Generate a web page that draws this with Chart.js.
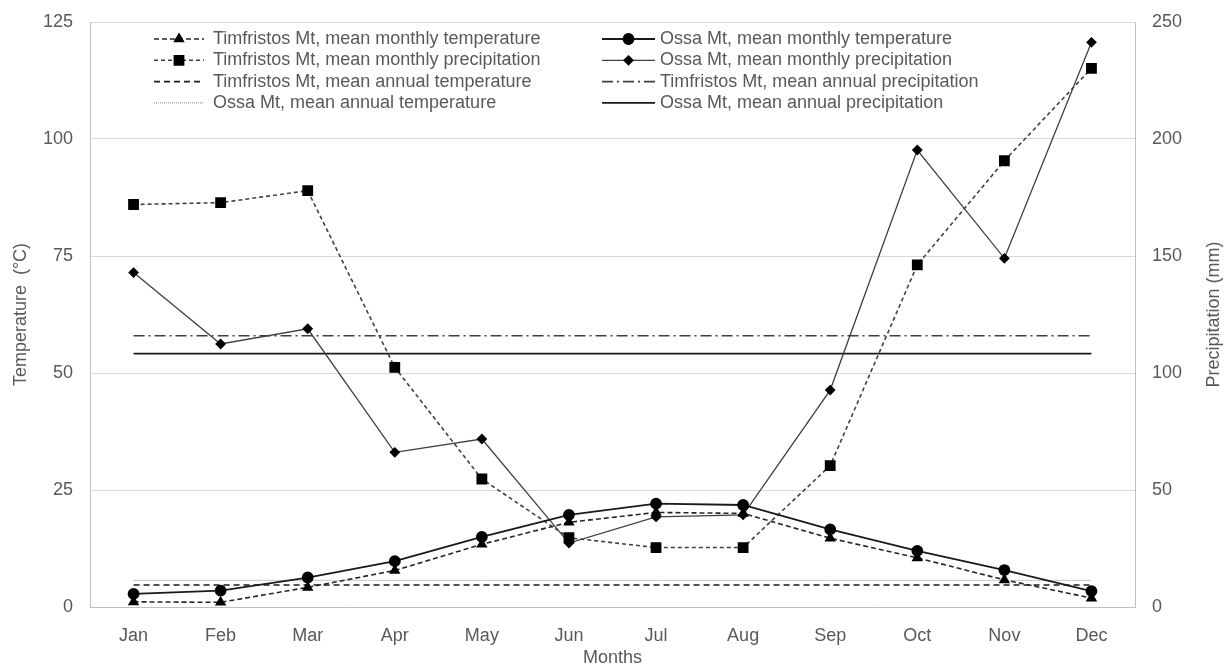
<!DOCTYPE html>
<html>
<head>
<meta charset="utf-8">
<script src="https://cdn.jsdelivr.net/npm/chart.js@4/dist/chart.umd.min.js"></script>
<style>
  html, body { margin: 0; padding: 0; background: #ffffff; }
  #chart-wrap { width: 1231px; height: 667px; }
</style>
</head>
<body>
<div id="chart-wrap"><canvas id="climate-chart" width="1231" height="667"></canvas></div>
<script>
// Categories and tick labels
const months = ["Jan", "Feb", "Mar", "Apr", "May", "Jun", "Jul", "Aug", "Sep", "Oct", "Nov", "Dec"];
const tempTicks = [0, 25, 50, 75, 100, 125];
const precipTicks = [0, 50, 100, 150, 200, 250];

// Monthly means (temperature in °C, precipitation in mm)
const timfristosTemp = [1.1, 1.0, 4.2, 7.8, 13.4, 18.1, 20.2, 20.0, 14.7, 10.5, 5.8, 1.9];
const ossaTemp = [2.8, 3.5, 6.3, 9.8, 15.0, 19.7, 22.1, 21.8, 16.6, 12.0, 7.9, 3.4];
const timfristosPrecip = [172.0, 172.8, 177.9, 102.4, 54.7, 29.6, 25.4, 25.4, 60.4, 146.2, 190.7, 230.2];
const ossaPrecip = [142.9, 112.4, 118.9, 66.1, 71.8, 27.3, 38.5, 39.4, 92.7, 195.3, 149.0, 241.3];

// Annual means
const timfristosAnnualTemp = 4.7;
const ossaAnnualTemp = 5.7;
const timfristosAnnualPrecip = 115.9;
const ossaAnnualPrecip = 108.3;

const textColor = "#595959";
const fontFamily = "'Liberation Sans', Arial, sans-serif";

function flatLine(value) {
  return months.map(() => value);
}

// Excel-like legend: two fixed columns, four rows
const legendCols = [
  { lineStart: 154, lineEnd: 204, textX: 213 },
  { lineStart: 602, lineEnd: 655, textX: 660 },
];
const legendTop = 39;
const legendRowGap = 21.3;

const legendPlugin = {
  id: "twoColumnLegend",
  afterDraw(chart) {
    const ctx = chart.ctx;
    chart.data.datasets.forEach((ds, i) => {
      const col = legendCols[i % 2];
      const y = legendTop + Math.floor(i / 2) * legendRowGap;
      ctx.save();
      ctx.strokeStyle = ds.borderColor;
      ctx.lineWidth = ds.borderWidth;
      ctx.setLineDash(ds.borderDash || []);
      ctx.beginPath();
      ctx.moveTo(col.lineStart, y);
      ctx.lineTo(col.lineEnd, y);
      ctx.stroke();
      ctx.setLineDash([]);
      if (ds.pointRadius > 0) {
        ctx.fillStyle = ds.pointBackgroundColor;
        ctx.strokeStyle = ds.pointBorderColor;
        Chart.helpers.drawPoint(ctx, {
          pointStyle: ds.pointStyle,
          radius: ds.pointRadius,
          rotation: 0,
          borderWidth: 1,
        }, (col.lineStart + col.lineEnd) / 2, y);
      }
      ctx.fillStyle = textColor;
      ctx.font = "18px " + fontFamily;
      ctx.textBaseline = "middle";
      ctx.textAlign = "left";
      ctx.fillText(ds.label, col.textX, y);
      ctx.restore();
    });

    // right axis title reads bottom to top, like the left one
    const area = chart.chartArea;
    ctx.save();
    ctx.translate(1214, (area.top + area.bottom) / 2);
    ctx.rotate(-Math.PI / 2);
    ctx.fillStyle = textColor;
    ctx.font = "18px " + fontFamily;
    ctx.textAlign = "center";
    ctx.textBaseline = "middle";
    ctx.fillText("Precipitation (mm)", 0, 0);
    ctx.restore();
  },
};

// keep the plot box where the original has it
function fixYAxis(width) {
  return (axis) => {
    axis.width = width;
    axis.paddingTop = 0;
    axis.paddingBottom = 0;
  };
}

const ctx = document.getElementById("climate-chart").getContext("2d");

new Chart(ctx, {
  type: "line",
  data: {
    labels: months,
    datasets: [
      {
        label: "Timfristos Mt, mean monthly temperature",
        data: timfristosTemp,
        yAxisID: "yTemp",
        borderColor: "#262626",
        borderWidth: 1.6,
        borderDash: [5, 3],
        pointStyle: "triangle",
        pointRadius: 5,
        pointBackgroundColor: "#000000",
        pointBorderColor: "#000000",
      },
      {
        label: "Ossa Mt, mean monthly temperature",
        data: ossaTemp,
        yAxisID: "yTemp",
        borderColor: "#1a1a1a",
        borderWidth: 1.8,
        pointStyle: "circle",
        pointRadius: 5,
        pointBackgroundColor: "#000000",
        pointBorderColor: "#000000",
      },
      {
        label: "Timfristos Mt, mean monthly precipitation",
        data: timfristosPrecip,
        yAxisID: "yPrecip",
        borderColor: "#404040",
        borderWidth: 1.6,
        borderDash: [4, 3],
        pointStyle: "rect",
        pointRadius: 6.5,
        pointBackgroundColor: "#000000",
        pointBorderColor: "#000000",
      },
      {
        label: "Ossa Mt, mean monthly precipitation",
        data: ossaPrecip,
        yAxisID: "yPrecip",
        borderColor: "#404040",
        borderWidth: 1.3,
        pointStyle: "rectRot",
        pointRadius: 4.5,
        pointBackgroundColor: "#000000",
        pointBorderColor: "#000000",
      },
      {
        label: "Timfristos Mt, mean annual temperature",
        data: flatLine(timfristosAnnualTemp),
        yAxisID: "yTemp",
        borderColor: "#1a1a1a",
        borderWidth: 1.6,
        borderDash: [6, 4],
        pointRadius: 0,
      },
      {
        label: "Timfristos Mt, mean annual precipitation",
        data: flatLine(timfristosAnnualPrecip),
        yAxisID: "yPrecip",
        borderColor: "#404040",
        borderWidth: 1.6,
        borderDash: [11, 4, 2, 4],
        pointRadius: 0,
      },
      {
        label: "Ossa Mt, mean annual temperature",
        data: flatLine(ossaAnnualTemp),
        yAxisID: "yTemp",
        borderColor: "#8c8c8c",
        borderWidth: 1,
        borderDash: [1, 1],
        pointRadius: 0,
      },
      {
        label: "Ossa Mt, mean annual precipitation",
        data: flatLine(ossaAnnualPrecip),
        yAxisID: "yPrecip",
        borderColor: "#1a1a1a",
        borderWidth: 1.6,
        pointRadius: 0,
      },
    ],
  },
  options: {
    responsive: false,
    animation: false,
    devicePixelRatio: 1,
    layout: { padding: { top: 22, left: 0, right: 0, bottom: 0 } },
    elements: { line: { tension: 0, fill: false } },
    plugins: {
      legend: { display: false },
      tooltip: { enabled: false },
    },
    scales: {
      x: {
        offset: true,
        grid: { display: false, drawTicks: false },
        border: { color: "#bfbfbf", width: 1 },
        ticks: { padding: 18, color: textColor, font: { family: fontFamily, size: 18 } },
        title: {
          display: true,
          text: "Months",
          color: textColor,
          padding: { top: 0, bottom: 0 },
          font: { family: fontFamily, size: 18, lineHeight: 1 },
        },
        afterFit(axis) { axis.height = 60; },
      },
      yTemp: {
        position: "left",
        min: 0,
        max: 125,
        grid: { color: "#d9d9d9", drawTicks: false },
        border: { color: "#bfbfbf", width: 1 },
        ticks: { padding: 17, color: textColor, font: { family: fontFamily, size: 18 } },
        afterBuildTicks(axis) { axis.ticks = tempTicks.map((v) => ({ value: v })); },
        title: {
          display: true,
          text: "Temperature  (°C)",
          color: textColor,
          padding: { top: 12, bottom: 0 },
          font: { family: fontFamily, size: 18, lineHeight: 1 },
        },
        afterFit: fixYAxis(90),
      },
      yPrecip: {
        position: "right",
        min: 0,
        max: 250,
        grid: { display: false, drawTicks: false },
        border: { color: "#bfbfbf", width: 1 },
        ticks: { padding: 17, color: textColor, font: { family: fontFamily, size: 18 } },
        afterBuildTicks(axis) { axis.ticks = precipTicks.map((v) => ({ value: v })); },
        title: { display: false },
        afterFit: fixYAxis(96),
      },
    },
  },
  plugins: [legendPlugin],
});
</script>
</body>
</html>
